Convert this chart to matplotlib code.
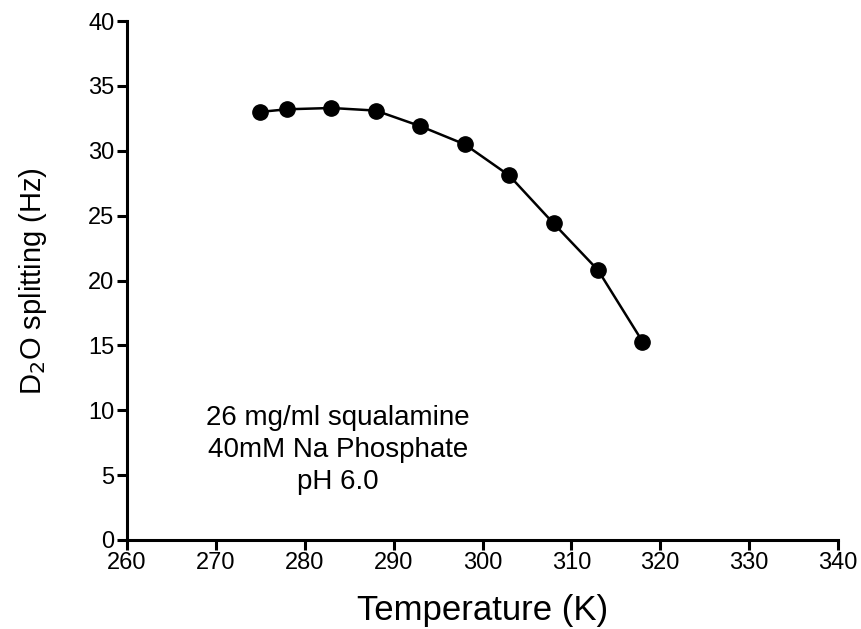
import matplotlib
matplotlib.use("Agg")
import matplotlib.pyplot as plt

# D2O splitting vs temperature
temperature = [275, 278, 283, 288, 293, 298, 303, 308, 313, 318]
splitting = [33.0, 33.2, 33.3, 33.1, 31.9, 30.5, 28.1, 24.4, 20.8, 15.3]

x_ticks = [260, 270, 280, 290, 300, 310, 320, 330, 340]
y_ticks = [0, 5, 10, 15, 20, 25, 30, 35, 40]

plt.rcParams['font.family'] = ['Liberation Sans', 'DejaVu Sans']

fig = plt.figure(figsize=(8.61, 6.29), dpi=100)
ax = fig.add_axes([0.1475, 0.1415, 0.8258, 0.825])

ax.plot(temperature, splitting, '-', color='black', linewidth=1.8, zorder=2)
ax.plot(temperature, splitting, 'o', color='black', markersize=11, zorder=3)

ax.set_xlim(260, 340)
ax.set_ylim(0, 40)
ax.set_xticks(x_ticks)
ax.set_yticks(y_ticks)

for side in ('top', 'right'):
    ax.spines[side].set_visible(False)
for side in ('left', 'bottom'):
    ax.spines[side].set_linewidth(2.2)
ax.tick_params(axis='both', direction='out', length=7, width=2.2,
               labelsize=17, colors='black', pad=2)

ax.set_xlabel("Temperature (K)", fontsize=25, labelpad=14)
ax.set_ylabel("D$_2$O splitting (Hz)", fontsize=21, labelpad=28)

ax.text(283.7, 6.9, "26 mg/ml squalamine\n40mM Na Phosphate\npH 6.0",
        ha='center', va='center', fontsize=20, linespacing=1.3)

fig.savefig("out.png", dpi=100)
